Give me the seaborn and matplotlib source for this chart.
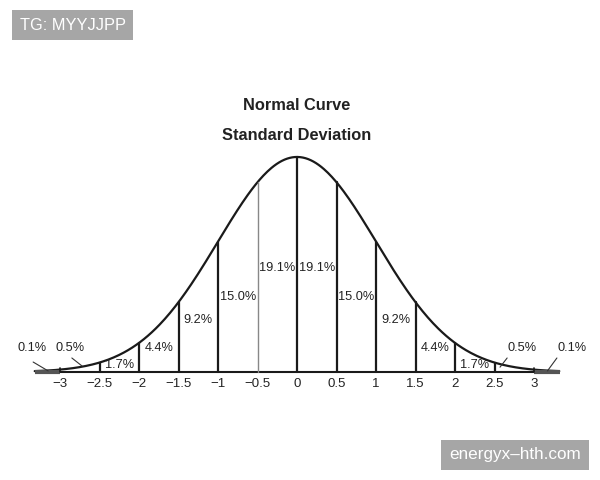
import matplotlib.pyplot as plt
import seaborn as sns
import pandas as pd
import numpy as np

# Dados
limites = [-2.5, -2, -1.5, -1, -0.5, 0, 0.5, 1, 1.5, 2, 2.5]
rotulos_x = ['\u22123', '\u22122.5', '\u22122', '\u22121.5', '\u22121', '\u22120.5',
             '0', '0.5', '1', '1.5', '2', '2.5', '3']
ticks_x = [-3, -2.5, -2, -1.5, -1, -0.5, 0, 0.5, 1, 1.5, 2, 2.5, 3]
percentuais = ['1.7%', '4.4%', '9.2%', '15.0%', '19.1%',
               '19.1%', '15.0%', '9.2%', '4.4%', '1.7%']
centros = [-2.25, -1.75, -1.25, -0.75, -0.25, 0.25, 0.75, 1.25, 1.75, 2.25]

# curva normal padrão
x = np.linspace(-3.32, 3.32, 400)
df = pd.DataFrame({'x': x, 'y': np.exp(-x ** 2 / 2) / np.sqrt(2 * np.pi)})

def pdf(v):
    return np.exp(-v ** 2 / 2) / np.sqrt(2 * np.pi)

sns.set_style('white')
plt.rcParams['font.family'] = ['Liberation Sans', 'DejaVu Sans']

fig = plt.figure(figsize=(6, 4.8), dpi=100)
ax = fig.add_axes([0, 0, 1, 1])
ax.set_xlim(-297 / 79, 303 / 79)
ax.set_ylim(-108 / 539, 372 / 539)
ax.axis('off')

sns.lineplot(data=df, x='x', y='y', color='#1a1a1a', linewidth=1.6, ax=ax)

# eixo
ax.plot([-3.32, 3.33], [0, 0], color='#1a1a1a', linewidth=1.5, solid_capstyle='butt')
ax.plot([-3.32, -3.0], [0, 0], color='#555555', linewidth=3, solid_capstyle='butt')
ax.plot([3.0, 3.33], [0, 0], color='#555555', linewidth=3, solid_capstyle='butt')

for v in limites:
    cor = '#888888' if v == -0.5 else '#1a1a1a'
    lw = 1.0 if v == -0.5 else 1.6
    ax.plot([v, v], [0, pdf(v)], color=cor, linewidth=lw)
for v in [-3, 3]:
    ax.plot([v, v], [0, 0.007], color='#1a1a1a', linewidth=1.2)

for t, r in zip(ticks_x, rotulos_x):
    ax.text(t, -0.011, r, ha='center', va='top', fontsize=9.5, color='#222222')

alturas = [0.0130, 0.0445, 0.0965, 0.139, 0.193,
           0.193, 0.139, 0.0965, 0.0445, 0.0130]
for c, h, p in zip(centros, alturas, percentuais):
    ax.text(c, h, p, ha='center', va='center', fontsize=9.2, color='#222222')

# caudas com linhas de chamada
ax.text(-3.35, 0.0445, '0.1%', ha='center', va='center', fontsize=9.2, color='#222222')
ax.text(-2.87, 0.0445, '0.5%', ha='center', va='center', fontsize=9.2, color='#222222')
ax.text(2.85, 0.0445, '0.5%', ha='center', va='center', fontsize=9.2, color='#222222')
ax.text(3.48, 0.0445, '0.1%', ha='center', va='center', fontsize=9.2, color='#222222')
ax.plot([-3.34, -3.15], [0.0185, 0.002], color='#333333', linewidth=0.8)
ax.plot([-2.85, -2.72], [0.0260, 0.011], color='#333333', linewidth=0.8)
ax.plot([2.66, 2.57], [0.0260, 0.009], color='#333333', linewidth=0.8)
ax.plot([3.29, 3.17], [0.0260, 0.002], color='#333333', linewidth=0.8)

ax.text(0, (372 - 105) / 539, 'Normal Curve', ha='center', va='center',
        fontsize=11.8, fontweight='bold', color='#222222')
ax.text(0, (372 - 136) / 539, 'Standard Deviation', ha='center', va='center',
        fontsize=11.8, fontweight='bold', color='#222222')

# marcas d'água
fig.text(72.5 / 600, 1 - 25 / 480, 'TG: MYYJJPP', ha='center', va='center',
         fontsize=11.8, color='white',
         bbox=dict(facecolor='#a6a6a6', edgecolor='none', boxstyle='square,pad=0.45'))
fig.text(515 / 600, 1 - 455 / 480, 'energyx\u2013hth.com', ha='center', va='center',
         fontsize=12.3, color='white',
         bbox=dict(facecolor='#a6a6a6', edgecolor='none', boxstyle='square,pad=0.45'))

plt.savefig('out.png', dpi=100)
plt.close()
